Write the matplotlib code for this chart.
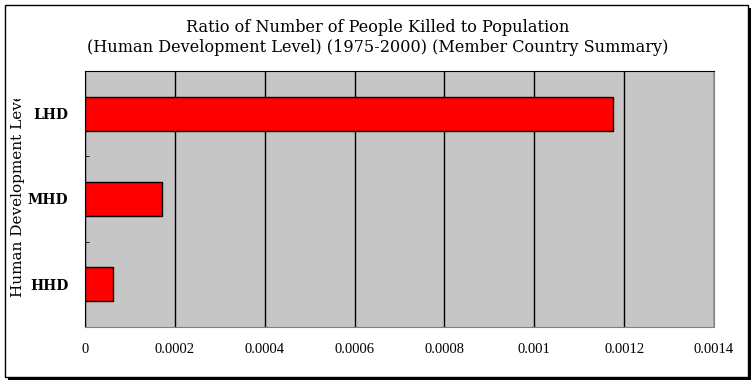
import matplotlib
matplotlib.use("Agg")
import matplotlib.pyplot as plt
from matplotlib.patches import Rectangle

categories = ["HHD", "MHD", "LHD"]
ratios = [0.0000625, 0.000171, 0.001175]
x_ticks = [0, 0.0002, 0.0004, 0.0006, 0.0008, 0.001, 0.0012, 0.0014]
x_tick_labels = ["0", "0.0002", "0.0004", "0.0006", "0.0008", "0.001", "0.0012", "0.0014"]

W, H = 755, 385
fig = plt.figure(figsize=(W / 100, H / 100), dpi=100)
fig.patch.set_facecolor("white")

# outer chart border with drop shadow
fig.patches.append(Rectangle((8 / W, 1 - 380 / H), 743 / W, 372 / H,
                             transform=fig.transFigure, facecolor="black", edgecolor="none", zorder=0))
fig.patches.append(Rectangle((5 / W, 1 - 377 / H), 743 / W, 372 / H,
                             transform=fig.transFigure, facecolor="white", edgecolor="black",
                             linewidth=1, zorder=1))

ax = fig.add_axes([85 / W, 1 - 327 / H, 629 / W, 256 / H])
ax.set_zorder(5)
ax.set_facecolor("#C6C6C6")
ax.barh(range(len(categories)), ratios, height=0.4, color="#FF0000",
        edgecolor="black", linewidth=1, zorder=3)

ax.set_xlim(0, 0.0014)
ax.set_ylim(-0.5, 2.5)
ax.set_xticks(x_ticks)
ax.set_xticklabels(x_tick_labels, fontsize=10.5, family="Liberation Serif")
ax.tick_params(axis="x", length=0, pad=11.5)
ax.set_yticks(range(len(categories)))
ax.set_yticklabels(categories, fontsize=10, family="DejaVu Serif", fontweight="bold")
ax.tick_params(axis="y", length=0, pad=12)
ax.set_yticks([0.5, 1.5], minor=True)
ax.tick_params(axis="y", which="minor", direction="in", length=3, color="black")
ax.grid(axis="x", color="black", linewidth=1, zorder=1)
ax.set_axisbelow(True)
for side in ["top", "left"]:
    ax.spines[side].set_color("black")
for side in ["right", "bottom"]:
    ax.spines[side].set_color("#808080")

fig.text(0.5, 1 - 27 / H, "Ratio of Number of People Killed to Population",
         ha="center", va="center", fontsize=11.6, family="DejaVu Serif", zorder=6)
fig.text(0.5, 1 - 47 / H, "(Human Development Level) (1975-2000) (Member Country Summary)",
         ha="center", va="center", fontsize=11.6, family="DejaVu Serif", zorder=6)

ylab = fig.text(18 / W, 1 - 297 / H, "Human Development Level", rotation=90,
                ha="center", va="bottom", fontsize=11, family="DejaVu Serif", zorder=6)
clip = Rectangle((0, 1 - 297 / H - 0.02), 40 / W, (297 - 99) / H + 0.02, transform=fig.transFigure)
ylab.set_clip_path(clip)

fig.savefig("out.png", dpi=100)
